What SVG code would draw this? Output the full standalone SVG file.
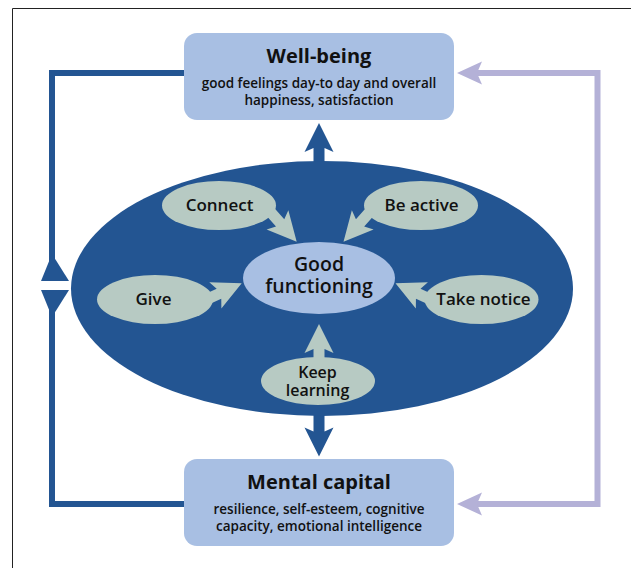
<svg xmlns="http://www.w3.org/2000/svg" width="631" height="568" viewBox="0 0 631 568">
<defs>
<style>
.box{fill:#a8bfe3}
.t{font-family:"Open Sans","Noto Sans","Liberation Sans",sans-serif;font-weight:600;fill:#111;text-anchor:middle}
.title{font-size:20px;font-weight:700}
.sub{font-size:13.5px}
.lbl{font-size:17px}
.kl{font-size:16px}
.gf{font-size:19.5px}
.pill{fill:#b7cac3}
.blue{fill:#235592}
.lav{fill:#b4b1d7}
</style>
<path id="arr" d="M0,0 L-29,-14.5 L-25,-5.5 L-60,-5.5 L-60,5.5 L-25,5.5 L-29,14.5 Z"/>
<path id="lavhead" d="M0,0 L25,-11.5 L20,0 L25,11.5 Z"/>
</defs>
<rect width="631" height="568" fill="#fff"/>
<path d="M12.5,568 V8.5 H631" fill="none" stroke="#222" stroke-width="1"/>

<g id="connectors">
  <path d="M184,73 H52 V262 M52,308 V504 H184" fill="none" stroke="#235592" stroke-width="6"/>
  <polygon class="blue" points="52,254 69,281 41,281"/>
  <polygon class="blue" points="41,290 69,290 52,317"/>
  <path d="M470,73 H597.5 V504 H470" fill="none" stroke="#b4b1d7" stroke-width="6"/>
  <use href="#lavhead" class="lav" x="457" y="73"/>
  <use href="#lavhead" class="lav" x="457" y="504"/>
  <use href="#arr" class="blue" transform="translate(319,123) rotate(-90)"/>
  <use href="#arr" class="blue" transform="translate(319,456.5) rotate(90)"/>
</g>

<g id="main-ellipse">
  <ellipse class="blue" cx="322" cy="288.5" rx="251" ry="127.5"/>
</g>

<g id="small-arrows">
  <use href="#arr" class="pill" transform="translate(296.7,241.7) rotate(48.5)"/>
  <use href="#arr" class="pill" transform="translate(343.5,241.7) rotate(131.5)"/>
  <use href="#arr" class="pill" transform="translate(241.7,283.3) rotate(-24.6)"/>
  <use href="#arr" class="pill" transform="translate(395.5,283.3) rotate(204.6)"/>
  <use href="#arr" class="pill" transform="translate(319,324) rotate(-90)"/>
</g>

<g id="well-being">
  <rect class="box" x="184" y="33" width="270" height="87" rx="13"/>
  <text class="t title" x="319" y="63">Well-being</text>
  <text class="t sub" x="319" y="88">good feelings day-to day and overall</text>
  <text class="t sub" x="319" y="105">happiness, satisfaction</text>
</g>

<g id="mental-capital">
  <rect class="box" x="184" y="459" width="270" height="87" rx="13"/>
  <text class="t title" x="319" y="488.5">Mental capital</text>
  <text class="t sub" x="319" y="514">resilience, self-esteem, cognitive</text>
  <text class="t sub" x="319" y="531">capacity, emotional intelligence</text>
</g>

<g id="good-functioning">
  <ellipse class="box" cx="319" cy="278" rx="76" ry="36"/>
  <text class="t gf" x="319" y="271">Good</text>
  <text class="t gf" x="319" y="292.7">functioning</text>
</g>

<g id="connect">
  <ellipse class="pill" cx="219" cy="205.5" rx="57" ry="24.5"/>
  <text class="t lbl" x="219.5" y="211">Connect</text>
</g>
<g id="be-active">
  <ellipse class="pill" cx="421" cy="205.5" rx="57" ry="24.5"/>
  <text class="t lbl" x="421.5" y="211">Be active</text>
</g>
<g id="give">
  <ellipse class="pill" cx="155" cy="299.5" rx="58" ry="24.5"/>
  <text class="t lbl" x="153.5" y="305">Give</text>
</g>
<g id="take-notice">
  <ellipse class="pill" cx="481.5" cy="299.5" rx="57" ry="24.5"/>
  <text class="t lbl" x="483.5" y="305">Take notice</text>
</g>
<g id="keep-learning">
  <ellipse class="pill" cx="318" cy="381" rx="57" ry="24"/>
  <text class="t kl" x="317.5" y="378">Keep</text>
  <text class="t kl" x="317.5" y="395.5">learning</text>
</g>
</svg>
